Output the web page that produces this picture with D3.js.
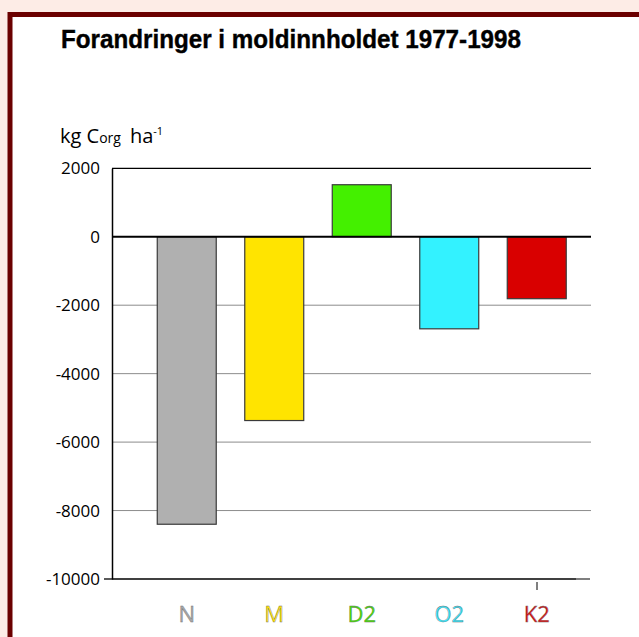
<!DOCTYPE html>
<html>
<head>
<meta charset="utf-8">
<script src="https://cdn.jsdelivr.net/npm/d3@7"></script>
<style>
  html, body { margin: 0; padding: 0; background: #fdece6; }
  svg { display: block; }
</style>
</head>
<body>
<div id="chart"></div>
<script>
// data
const categories = ['N', 'M', 'D2', 'O2', 'K2'];
const values = [-8400, -5370, 1520, -2690, -1810];
const barColors = ['#b0b0b0', '#ffe400', '#44f000', '#33f2ff', '#d90000'];
const labelColors = ['#a8a8a8', '#ffe400', '#44e000', '#33e8ff', '#d81010'];
const yTicks = [2000, 0, -2000, -4000, -6000, -8000, -10000];

const width = 639, height = 637;
const svg = d3.select('#chart').append('svg')
    .attr('width', width).attr('height', height);

// pink page + dark red frame
svg.append('rect').attr('width', width).attr('height', height).attr('fill', '#fdece6');
svg.append('rect').attr('x', 10).attr('y', 14.5).attr('width', 640).attr('height', 640)
    .attr('fill', '#fff').attr('stroke', '#6b0000').attr('stroke-width', 5);

// title
svg.append('text').attr('x', 61).attr('y', 48)
    .attr('font-family', '"Liberation Sans Narrow", "Liberation Sans", sans-serif')
    .attr('font-weight', 'bold').attr('font-size', 25)
    .attr('textLength', 460).attr('lengthAdjust', 'spacingAndGlyphs')
    .attr('fill', '#000').attr('stroke', '#000').attr('stroke-width', 0.4)
    .text('Forandringer i moldinnholdet 1977-1998');

// unit label
const unit = svg.append('text').attr('x', 60).attr('y', 143)
    .attr('font-family', '"Open Sans", sans-serif').attr('font-size', 20).attr('fill', '#000');
unit.append('tspan').text('kg C');
unit.append('tspan').attr('font-size', 14).text('org');
unit.append('tspan').attr('dx', 9).text('ha');
unit.append('tspan').attr('font-size', 11).attr('dy', -8).text('-1');

const left = 112, right = 591;
const y = d3.scaleLinear().domain([-10000, 2000]).range([579, 168.3]);
const x = d3.scaleBand().domain(categories).range([143, 580.5]).paddingInner(0.326).paddingOuter(0.163);

const chart = svg.append('g');

// grid lines
chart.selectAll('line.grid').data(yTicks.filter(d => d !== 0 && d !== -10000 && d !== 2000))
    .join('line').classed('grid', true)
    .attr('x1', left).attr('x2', right)
    .attr('y1', d => y(d)).attr('y2', d => y(d))
    .attr('stroke', '#8c8c8c').attr('stroke-width', 1);

// top border line
chart.append('line').attr('x1', left).attr('x2', right)
    .attr('y1', y(2000)).attr('y2', y(2000))
    .attr('stroke', '#000').attr('stroke-width', 1.3);

// bars
chart.selectAll('rect.bar').data(values)
    .join('rect').classed('bar', true)
    .attr('x', (d, i) => x(categories[i]))
    .attr('width', x.bandwidth())
    .attr('y', d => y(Math.max(0, d)))
    .attr('height', d => Math.abs(y(d) - y(0)))
    .attr('fill', (d, i) => barColors[i])
    .attr('stroke', '#3a3a3a').attr('stroke-width', 1.2);

// zero line
chart.append('line').attr('x1', left).attr('x2', right)
    .attr('y1', y(0)).attr('y2', y(0))
    .attr('stroke', '#000').attr('stroke-width', 1.8);

// y axis
const yAxis = d3.axisLeft(y).tickValues(yTicks).tickFormat(d => String(d)).tickSize(0).tickPadding(12);
const ya = chart.append('g').attr('transform', `translate(${left},0)`).call(yAxis);
ya.select('.domain').attr('stroke', '#000').attr('stroke-width', 1.5);
ya.selectAll('text').attr('font-family', '"Open Sans", sans-serif')
    .attr('font-size', 17).attr('fill', '#000');
ya.selectAll('.tick line').remove();
// tiny tick for -10000
chart.append('line').attr('x1', 104).attr('x2', left).attr('y1', y(-10000)).attr('y2', y(-10000))
    .attr('stroke', '#000').attr('stroke-width', 1.3);

// bottom axis
chart.append('line').attr('x1', left).attr('x2', 576).attr('y1', y(-10000)).attr('y2', y(-10000))
    .attr('stroke', '#000').attr('stroke-width', 1.5);
chart.append('line').attr('x1', 576).attr('x2', 590).attr('y1', y(-10000)).attr('y2', y(-10000))
    .attr('stroke', '#555').attr('stroke-width', 1.5);
chart.append('line').attr('x1', 537).attr('x2', 537).attr('y1', 582).attr('y2', 590)
    .attr('stroke', '#000').attr('stroke-width', 1);

// category labels
chart.selectAll('text.cat').data(categories)
    .join('text').classed('cat', true)
    .attr('x', d => x(d) + x.bandwidth() / 2)
    .attr('y', 622)
    .attr('text-anchor', 'middle')
    .attr('font-family', '"Open Sans", sans-serif').attr('font-size', 22)
    .attr('fill', (d, i) => labelColors[i])
    .attr('stroke', '#707070').attr('stroke-width', 0.4)
    .text(d => d);
</script>
</body>
</html>
